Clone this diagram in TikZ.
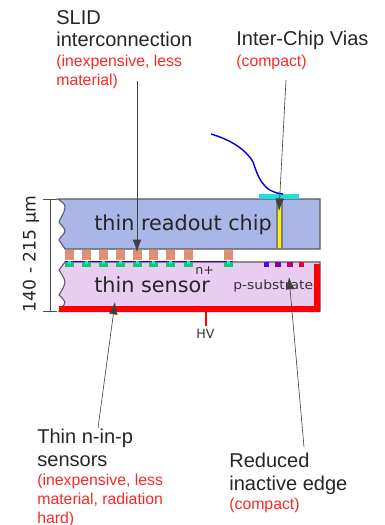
\documentclass[tikz,border=0pt]{standalone}
\usepackage{fontspec}
\setmainfont{Liberation Sans}
\newfontfamily\vera{DejaVu Sans}
\definecolor{chipblue}{HTML}{AAB5E8}
\definecolor{sensorlilac}{HTML}{E8CDF0}
\definecolor{bumporange}{HTML}{E8906A}
\definecolor{implantgreen}{HTML}{00D070}
\definecolor{padcyan}{HTML}{22DDE0}
\tikzset{
    callout/.style={inner sep=0pt,anchor=north west,align=left,text=black!85,font=\fontsize{11.4}{12.8}\selectfont},
    remark/.style={inner sep=0pt,anchor=north west,align=left,text=red!85!white,font=\fontsize{9}{10.6}\selectfont},
    pointer/.style={black!75,line width=0.35pt,-{Latex[length=7pt,width=5pt]}},
    layername/.style={inner sep=0pt,anchor=base west,text=black!85,font=\vera\fontsize{11.8}{12}\selectfont},
    tinyname/.style={inner sep=0pt,anchor=base west,text=black!80,font=\vera\fontsize{7.2}{8}\selectfont}
}
\usetikzlibrary{arrows.meta}
\begin{document}
\begin{tikzpicture}[x=0.02cm,y=-0.02cm]
        \useasboundingbox(0,0)rectangle(385,525);
        % readout chip and sensor
        \draw[black!65,line width=0.6pt,fill=chipblue](320,249)--(320,199)--(58,199)
            to[out=-40,in=80](65,208)to[out=-100,in=70](59,222)to[out=-60,in=100](65,231)
            to[out=-100,in=70](59,240)to[out=-60,in=120](65,249)--cycle;
        \draw[black!65,line width=0.6pt,fill=sensorlilac](320,262)--(65,262)
            to[out=-120,in=60](59,270)to[out=-60,in=100](65,282)
            to[out=-100,in=60](59,295)to[out=-60,in=100](65,302)
            to[out=-100,in=60](59,311)--(320,311)--cycle;
        \fill[red](59,306)--(314,306)--(314,264)--(320,264)--(320,312)--(59,312)--cycle;
        % bumps
        \foreach \x in {69,86,103,120,137,153,170,188,228}
            {
                \fill[bumporange](\x-4.5,250)rectangle(\x+4.5,260);
                \fill[black!40,opacity=0.5](\x-4.5,253)rectangle(\x+4.5,254);
                \fill[black!40,opacity=0.5](\x-4.5,256.5)rectangle(\x+4.5,257.5);
                \fill[implantgreen](\x-4.5,263)rectangle(\x+4.5,267);
            }
        \draw[blue!80!red,line width=1pt](65,261.5)--(233,261.5);
        \foreach \x in {69,86,103,120,137,153,170,188,228}
            {
                \fill[padcyan](\x-1.5,261)rectangle(\x+1.5,264);
            }
        % edge implants
        \foreach \x/\c in {266.5/5500FF,278/8A00B0,290/B80080,301.5/EE0030}
            {
                \definecolor{ringcol}{HTML}{\c}
                \fill[ringcol](\x-2.7,262)rectangle(\x+2.7,267);
            }
        % via
        \fill[padcyan](259,194)rectangle(299,199);
        \draw[black!50,fill=yellow,line width=0.6pt](277,199)rectangle(282,249);
        \draw[blue!85!black,line width=0.8pt](211,134)..controls(228,139)and(245,148)..(253,162)
            ..controls(258,176)and(262,192)..(283,194);
        % HV
        \coordinate(hvtop)at(206,312);
        \node[tinyname](hv)at(196,338){HV};
        \draw[red,line width=0.6pt](hvtop)--(206,326);
        % layer names
        \node[layername](chipname)at(94,230){thin readout chip};
        \node[layername](sensorname)at(94,292){thin sensor};
        \node[tinyname](nplus)at(195,274){n+};
        \node[tinyname,xscale=1.1](psub)at(233,289){p-substrate};
        % thickness
        \coordinate(dimtop)at(50,199);
        \coordinate(dimbot)at(50,311);
        \draw[black!70,line width=0.35pt]([xshift=-4]dimtop)--([xshift=4]dimtop);
        \draw[black!70,line width=0.35pt]([xshift=-4]dimbot)--([xshift=4]dimbot);
        \draw[black!70,line width=0.35pt](dimtop)--(dimbot);
        \node[rotate=90,inner sep=0pt,text=black!85,font=\vera\fontsize{9.8}{10}\selectfont](thickness)at(31,254){140 - 215 µm};
        % labels
        \node[callout](slid)at(56,10){SLID\\interconnection};
        \node[remark](slidnote)at(56,55){(inexpensive, less\\material)};
        \node[callout](vias)at(236,31){Inter-Chip Vias};
        \node[remark](viasnote)at(236,55){(compact)};
        \node[callout](nonp)at(37,429){Thin n-in-p\\sensors};
        \node[remark](nonpnote)at(37,474){(inexpensive, less\\material, radiation\\hard)};
        \node[callout](edge)at(229,453){Reduced\\inactive edge};
        \node[remark](edgenote)at(229,498){(compact)};
        % arrows
        \coordinate(slidfrom)at(137,81);
        \coordinate(slidto)at(137,252);
        \coordinate(viasfrom)at(286,80);
        \coordinate(viasto)at(279,211);
        \coordinate(nonpfrom)at(98,428);
        \coordinate(nonpto)at(115,302);
        \coordinate(edgefrom)at(304,447);
        \coordinate(edgeto)at(289,277);
        \draw[pointer](slidfrom)--(slidto);
        \draw[pointer](viasfrom)--(viasto);
        \draw[pointer](nonpfrom)--(nonpto);
        \draw[pointer](edgefrom)--(edgeto);
    \end{tikzpicture}
\end{document}
